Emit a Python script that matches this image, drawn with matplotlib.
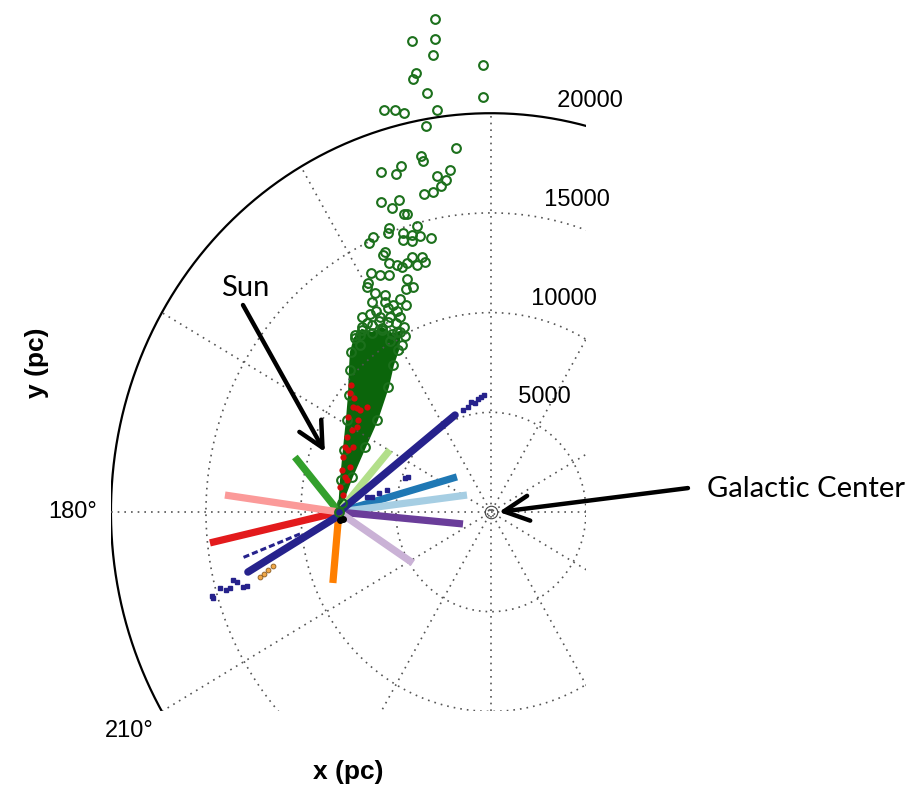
import numpy as np
import matplotlib.pyplot as plt

plt.rcParams['font.family'] = ['Liberation Sans', 'DejaVu Sans']

# Sun and Galactic Centre (kpc, galactocentric x-y plane)
sun_x, sun_y = -8.0, 0.0
gc_x, gc_y = 0.0, 0.0

# pencil-beam lines of sight from the Sun, end points (kpc)
beam_colors = ['#33a02c', '#b2df8a', '#1f78b4', '#a6cee3', '#6a3d9a',
               '#cab2d6', '#ff7f00', '#e31a1c', '#fb9a99']
beam_end_x = [-10.32, -5.32, -1.79, -1.26, -1.47, -4.11, -8.32, -14.79, -14.00]
beam_end_y = [2.76, 3.11, 1.76, 0.85, -0.60, -2.56, -3.56, -1.55, 0.85]

# green sample: sparse stars (kpc)
green_x = [-2.95, -4.16, -2.95, -3.05, -0.42, -3.95, -4.11, -3.37, -0.42, -5.63,
           -5.05, -4.58, -2.84, -3.42, -1.84, -3.68, -3.58, -4.74, -5.79, -5.00,
           -2.16, -2.84, -2.37, -2.63, -3.05, -3.53, -5.79, -4.84, -5.21, -4.58,
           -4.42, -3.89, -5.37, -4.63, -4.16, -3.74, -3.16, -6.21, -6.42, -5.42,
           -4.63, -4.16, -5.58, -5.68, -4.16, -3.63, -5.37, -4.95, -4.68, -4.42,
           -3.89, -3.47, -6.32, -5.84, -5.37, -4.42, -6.47, -6.53, -4.11, -4.47,
           -6.11, -5.58, -4.79, -6.26, -5.58, -4.47, -5.42, -4.95, -6.79, -6.37,
           -5.84, -5.32, -4.79, -6.79, -6.26, -5.42, -5.74, -4.95, -7.16, -4.53,
           -4.68, -6.89, -6.50, -5.90, -5.00, -4.60, -6.90, -5.30, -6.05, -5.15]
green_y = [24.72, 23.62, 23.72, 22.92, 22.42, 22.02, 21.72, 21.01, 20.81, 20.16,
           20.16, 20.01, 20.16, 19.36, 18.25, 17.85, 17.60, 17.35, 17.05, 16.95,
           17.15, 16.85, 16.65, 16.35, 16.05, 15.95, 15.55, 15.65, 15.25, 14.94,
           14.94, 14.34, 14.24, 13.99, 13.89, 13.84, 13.74, 13.79, 13.49, 13.99,
           13.64, 13.59, 13.04, 12.89, 12.79, 12.79, 12.49, 12.39, 12.29, 12.49,
           12.39, 12.54, 11.99, 11.89, 11.89, 11.68, 11.48, 11.28, 11.28, 11.18,
           10.98, 10.88, 10.68, 10.53, 10.53, 10.38, 10.23, 10.08, 9.78, 9.93,
           9.78, 9.78, 9.78, 9.28, 9.38, 9.53, 9.13, 9.03, 8.88, 8.83,
           8.37, 8.37, 9.50, 9.60, 9.50, 9.30, 8.90, 8.60, 10.10, 10.40]

# green sample: outline of the crowded part near the Sun (kpc)
core_x = [-8.00, -7.89, -7.74, -7.58, -7.47, -7.42, -7.37, -7.16, -6.79, -6.26,
          -5.74, -5.21, -4.79, -4.89, -5.16, -5.42, -6.00, -6.63, -7.32, -7.84]
core_y = [0.00, 1.60, 3.11, 4.61, 5.87, 7.12, 8.02, 8.73, 9.13, 8.98,
          9.23, 8.93, 9.03, 8.12, 7.37, 6.27, 4.61, 3.26, 1.76, 0.45]

# red sample (kpc)
red_x = [-7.42, -7.26, -7.05, -6.53, -7.53, -7.00, -7.32, -7.58, -7.68, -7.53,
         -7.79, -7.84, -7.68, -7.95, -7.79, -6.89, -7.05, -7.26, -7.42, -7.58,
         -7.37, -7.21]
red_y = [5.97, 5.27, 5.22, 5.27, 4.76, 4.61, 4.11, 3.76, 3.26, 3.11,
         2.76, 2.11, 1.76, 1.25, 0.85, 5.12, 4.26, 3.26, 2.26, 1.60,
         6.37, 5.72]

# navy sample: two dense streams plus loose stars (kpc)
navy_band_x = [[-8.00, -1.89], [-8.21, -12.79]]
navy_band_y = [[0.00, 4.86], [-0.30, -3.01]]
navy_thin_x = [-10.05, -13.11]
navy_thin_y = [-1.10, -2.31]
navy_x = [-1.21, -0.84, -0.68, -0.53, -0.37, -1.47, -1.05,
          -4.37, -4.53, -5.89, -6.26, -6.53, -5.47,
          -13.58, -13.37, -12.84, -13.05, -14.26, -13.74, -14.63, -14.68, -13.95]
navy_y = [5.27, 5.47, 5.67, 5.77, 5.87, 5.12, 5.52,
          1.76, 1.71, 0.95, 0.75, 0.75, 1.10,
          -3.41, -3.51, -3.71, -3.76, -3.81, -3.81, -4.31, -4.21, -3.91]

# light-orange and black samples (kpc)
tan_x = [-12.16, -11.74, -11.47, -11.95]
tan_y = [-3.26, -2.91, -2.71, -3.11]
black_x = [-7.95, -7.79]
black_y = [-0.40, -0.35]

rings = [5000, 10000, 15000, 20000]
spokes = [0, 30, 60, 90, 120, 150]

kpc = 1000.0

fig = plt.figure(figsize=(9.08, 7.90), dpi=100)
ax = fig.add_axes([0.1222, 0.0995, 0.5231, 0.8834])

# polar grid
dot = (0, (1, 3))
t = np.linspace(0, 2 * np.pi, 500)
for r in rings[:-1]:
    ax.plot(r * np.cos(t), r * np.sin(t), ls=dot, color='#555555', lw=1.2)
ax.plot(rings[-1] * np.cos(t), rings[-1] * np.sin(t), color='black', lw=1.6)
for a in np.deg2rad(spokes):
    rm = rings[-1]
    ax.plot([-rm * np.cos(a), rm * np.cos(a)], [-rm * np.sin(a), rm * np.sin(a)],
            ls=dot, color='#555555', lw=1.2)

c82, s82 = np.cos(np.deg2rad(82)), np.sin(np.deg2rad(82))
for r in rings:
    ax.text((r + 250) * c82, (r + 250) * s82, '  %d' % r, fontsize=17,
            ha='left', va='bottom')
ax.text(-1.1 * rings[-1], 0, '180°', fontsize=17, ha='center', va='center')
ax.text(1.1 * rings[-1] * np.cos(np.deg2rad(210)),
        1.1 * rings[-1] * np.sin(np.deg2rad(210)),
        '210°', fontsize=17, ha='center', va='center')

# lines of sight
for c, ex, ey in zip(beam_colors, beam_end_x, beam_end_y):
    ax.plot([sun_x * kpc, ex * kpc], [sun_y * kpc, ey * kpc], color=c, lw=5.2,
            solid_capstyle='butt')

navy = '#26228c'
for bx, by in zip(navy_band_x, navy_band_y):
    ax.plot(np.array(bx) * kpc, np.array(by) * kpc, color=navy, lw=5.4,
            solid_capstyle='round')
ax.plot(np.array(navy_thin_x) * kpc, np.array(navy_thin_y) * kpc, color=navy,
        lw=2.2, ls=(0, (2, 1)))
ax.plot(np.array(navy_x) * kpc, np.array(navy_y) * kpc, 's', color=navy, ms=2.8)
ax.plot(np.array(tan_x) * kpc, np.array(tan_y) * kpc, 'o', color='#f0a848',
        mec='#8a5a20', ms=3.5, mew=0.6)

# green sample
green = '#1c701c'
ax.fill(np.array(core_x) * kpc, np.array(core_y) * kpc, color='#0b650b', lw=1.5,
        ec='#0b650b')
ax.plot(np.array(core_x) * kpc, np.array(core_y) * kpc, 'o', mfc='none',
        mec=green, ms=6.3, mew=1.5)
ax.plot(np.array(green_x) * kpc, np.array(green_y) * kpc, 'o', mfc='none',
        mec=green, ms=6.3, mew=1.5)
ax.plot(np.array(red_x) * kpc, np.array(red_y) * kpc, 'o', color='#d40a0a',
        ms=4.5, mew=0)
ax.plot(np.array(black_x) * kpc, np.array(black_y) * kpc, 'o', color='black', ms=4)

# Galactic Centre marker
ax.plot(gc_x, gc_y, 'o', mfc='none', mec='#444444', ms=9, mew=0.8)

ax.set_xlim(-20000, 5000)
ax.set_ylim(-10000, 25000)
ax.set_xticks([])
ax.set_yticks([])
for s in ax.spines.values():
    s.set_visible(False)

ax.text(0.5, -0.087, 'x (pc)', transform=ax.transAxes, fontsize=19,
        fontweight='bold', ha='center', va='center')
ax.text(-0.156, 0.5, 'y (pc)', transform=ax.transAxes, fontsize=19,
        fontweight='bold', ha='center', va='center', rotation=90)

# annotations
arrow = dict(arrowstyle='->, head_length=0.9, head_width=0.45', color='black',
             lw=3.2, mutation_scale=20, shrinkA=0, shrinkB=0)
ax.annotate('', xy=(-8.74 * kpc, 3.01 * kpc), xytext=(-13.05 * kpc, 10.38 * kpc),
            arrowprops=arrow, annotation_clip=False)
ax.annotate('', xy=(0.42 * kpc, 0.0), xytext=(10.37 * kpc, 1.20 * kpc),
            arrowprops=arrow, annotation_clip=False)
fig.text(245 / 908, 1 - 288 / 790, 'Sun', family=['Lato', 'DejaVu Sans'],
         fontsize=21, ha='center', va='center')
fig.text(806 / 908, 1 - 489 / 790, 'Galactic Center', family=['Lato', 'DejaVu Sans'],
         fontsize=21, ha='center', va='center')

fig.savefig('out.png', dpi=100)
